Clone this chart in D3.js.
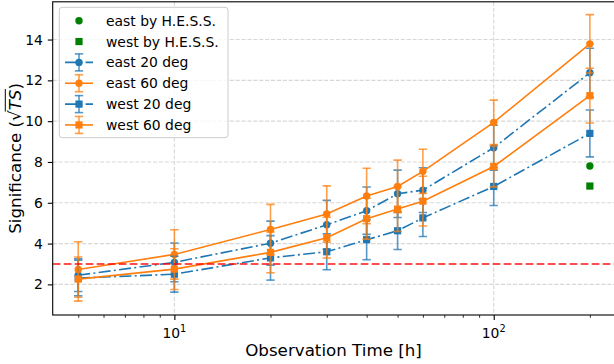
<!DOCTYPE html>
<html><head><meta charset="utf-8">
<script src="https://cdn.jsdelivr.net/npm/d3@7"></script>
<style>body{margin:0;background:#fff} text{font-family:"DejaVu Sans",sans-serif;fill:#000}</style>
</head><body><svg id="c" width="614" height="364"></svg>
<script>
// ---------- data ----------
const hours = [5, 10, 20, 30, 40, 50, 60, 100, 200];
const east20 = [2.45, 3.08, 4.02, 4.92, 5.61, 6.44, 6.62, 8.70, 12.37];
const east20Err = [0.80, 0.95, 1.08, 1.20, 1.16, 1.16, 1.10, 1.10, 1.20];
const east60 = [2.73, 3.47, 4.69, 5.45, 6.33, 6.80, 7.54, 9.94, 13.79];
const east60Err = [1.36, 1.21, 1.23, 1.38, 1.36, 1.29, 1.08, 1.09, 1.43];
const west20 = [2.31, 2.50, 3.30, 3.60, 4.19, 4.63, 5.26, 6.80, 9.40];
const west20Err = [0.87, 0.88, 1.09, 0.88, 0.98, 0.92, 0.91, 0.93, 1.15];
const west60 = [2.26, 2.75, 3.57, 4.29, 5.22, 5.69, 6.08, 7.78, 11.25];
const west60Err = [1.08, 1.00, 1.00, 1.00, 1.00, 1.10, 1.22, 1.00, 1.34];
const hessHours = [200];
const hessEast = [7.80];
const hessWest = [6.82];
const threshold = 3;
const yTicks = [2, 4, 6, 8, 10, 12, 14];
const xMajorTicks = [10, 100];
const xMajorExp = ["1", "2"];
const xMinorTicks = [5, 6, 7, 8, 9, 20, 30, 40, 50, 60, 70, 80, 90, 200];
const legendLabels = ["east by H.E.S.S.", "west by H.E.S.S.", "east 20 deg", "east 60 deg", "west 20 deg", "west 60 deg"];

// ---------- setup ----------
const BLUE = "#1f77b4", ORANGE = "#ff7f0e", GREEN = "#008000";
const svg = d3.select("#c");
const L = 52.7, R = 615.4, T = 1.8, B = 315;
const x = d3.scaleLog().domain([Math.pow(10, 0.619), Math.pow(10, 2.381)]).range([L, R]);
const y = d3.scaleLinear().domain([0.5, 15.85]).range([B, T]);

svg.append("defs").append("clipPath").attr("id", "clip")
  .append("rect").attr("x", L).attr("y", T).attr("width", R - L).attr("height", B - T);

// grid
const grid = svg.append("g");
grid.selectAll(".gy").data(yTicks).enter().append("line")
  .attr("x1", L).attr("x2", R).attr("y1", d => y(d)).attr("y2", d => y(d))
  .attr("stroke", "#b0b0b0").attr("stroke-opacity", 0.5).attr("stroke-width", 1.1).attr("stroke-dasharray", "4.1,1.8");
grid.selectAll(".gx").data(xMajorTicks).enter().append("line")
  .attr("y1", T).attr("y2", B).attr("x1", d => x(d)).attr("x2", d => x(d))
  .attr("stroke", "#b0b0b0").attr("stroke-opacity", 0.5).attr("stroke-width", 1.1).attr("stroke-dasharray", "4.1,1.8");

const plot = svg.append("g").attr("clip-path", "url(#clip)");

function marker(g, type, cx, cy, color) {
  if (type === "circle") {
    g.append("circle").attr("cx", cx).attr("cy", cy).attr("r", 3.7).attr("fill", color);
  } else {
    g.append("rect").attr("x", cx - 3.6).attr("y", cy - 3.6).attr("width", 7.2).attr("height", 7.2).attr("fill", color);
  }
}

// H.E.S.S. points
hessHours.forEach((h, i) => {
  marker(plot, "circle", x(h), y(hessEast[i]), GREEN);
  marker(plot, "square", x(h), y(hessWest[i]), GREEN);
});

function series(vals, errs, color, dash, type) {
  const g = plot.append("g");
  const eb = g.append("g").attr("stroke", color).attr("stroke-width", 1.6).attr("stroke-opacity", 0.75);
  hours.forEach((h, i) => {
    const cx = x(h), y1 = y(vals[i] + errs[i]), y0 = y(vals[i] - errs[i]);
    eb.append("line").attr("x1", cx).attr("x2", cx).attr("y1", y1).attr("y2", y0);
    eb.append("line").attr("x1", cx - 4.2).attr("x2", cx + 4.2).attr("y1", y1).attr("y2", y1);
    eb.append("line").attr("x1", cx - 4.2).attr("x2", cx + 4.2).attr("y1", y0).attr("y2", y0);
  });
  const line = d3.line().x((d, i) => x(hours[i])).y(d => y(d));
  g.append("path").datum(vals).attr("d", line).attr("fill", "none").attr("stroke", color)
    .attr("stroke-width", 1.6).attr("stroke-dasharray", dash);
  vals.forEach((v, i) => marker(g, type, x(hours[i]), y(v), color));
}
const DASHDOT = "12,3.3,2,3.3";
series(east20, east20Err, BLUE, DASHDOT, "circle");
series(east60, east60Err, ORANGE, null, "circle");
series(west20, west20Err, BLUE, DASHDOT, "square");
series(west60, west60Err, ORANGE, null, "square");

// threshold line
plot.append("line").attr("x1", L).attr("x2", R).attr("y1", y(threshold)).attr("y2", y(threshold))
  .attr("stroke", "red").attr("stroke-opacity", 0.7).attr("stroke-width", 2).attr("stroke-dasharray", "7.7,3.3");

// frame
svg.append("rect").attr("x", L).attr("y", T).attr("width", R - L).attr("height", B - T)
  .attr("fill", "none").attr("stroke", "#000").attr("stroke-width", 1.1);

// axes
const yAxis = svg.append("g").attr("transform", `translate(${L},0)`)
  .call(d3.axisLeft(y).tickValues(yTicks).tickSize(4.9).tickPadding(4.9).tickFormat(d3.format("d")));
yAxis.select(".domain").remove();
yAxis.selectAll("text").attr("font-size", 13.9).attr("font-family", "DejaVu Sans");
yAxis.selectAll("line").attr("stroke-width", 1.1);

const xAxis = svg.append("g").attr("transform", `translate(0,${B})`)
  .call(d3.axisBottom(x).tickValues(xMajorTicks).tickSize(4.9).tickFormat(""));
xAxis.select(".domain").remove();
xAxis.selectAll("line").attr("stroke-width", 1.1);
const xMinor = svg.append("g").attr("transform", `translate(0,${B})`)
  .call(d3.axisBottom(x).tickValues(xMinorTicks.filter(d => x(d) <= R)).tickSize(2.8).tickFormat(""));
xMinor.select(".domain").remove();
xMinor.selectAll("line").attr("stroke-width", 0.8);

xMajorTicks.forEach((t, i) => {
  const tx = svg.append("text").attr("x", x(t)).attr("y", B + 22.5).attr("text-anchor", "middle")
    .attr("font-size", 13.9);
  tx.append("tspan").text("10");
  tx.append("tspan").attr("dy", -5.5).attr("font-size", 9.8).text(xMajorExp[i]);
});

// axis labels
svg.append("text").attr("x", (L + R) / 2 - 0.5).attr("y", 356).attr("text-anchor", "middle")
  .attr("font-size", 16.7).text("Observation Time [h]");

const yl = svg.append("g").attr("transform", `translate(20.5,${(T + B) / 2}) rotate(-90)`);
const ylt = yl.append("text").attr("font-size", 16.7).attr("x", 0).attr("y", 0);
ylt.append("tspan").text("Significance (");
ylt.append("tspan").text("\u221A");
ylt.append("tspan").attr("font-style", "italic").text("TS");
ylt.append("tspan").text(")");
const w = ylt.node().getComputedTextLength();
ylt.attr("x", -w / 2);
const n = ylt.node();
const sx = n.getEndPositionOfChar(14).x - 1.2, ex = n.getEndPositionOfChar(16).x + 0.5;
yl.append("line").attr("x1", sx).attr("x2", ex).attr("y1", -15.2).attr("y2", -15.2)
  .attr("stroke", "#000").attr("stroke-width", 1);

// legend
const lg = svg.append("g");
lg.append("rect").attr("x", 59.3).attr("y", 7.3).attr("width", 168.7).attr("height", 130.4).attr("rx", 3)
  .attr("fill", "#fff").attr("fill-opacity", 0.8).attr("stroke", "#ccc").attr("stroke-width", 1);
const rowY = i => 20.7 + i * 20.85;
const hx0 = 65, hx1 = 93, hc = 79;
const legendStyle = [
  {type: "circle", color: GREEN, eb: false},
  {type: "square", color: GREEN, eb: false},
  {type: "circle", color: BLUE, eb: true, dash: DASHDOT},
  {type: "circle", color: ORANGE, eb: true, dash: null},
  {type: "square", color: BLUE, eb: true, dash: DASHDOT},
  {type: "square", color: ORANGE, eb: true, dash: null}
];
legendLabels.forEach((lab, i) => {
  const s = legendStyle[i], cy = rowY(i);
  const g = lg.append("g");
  if (s.eb) {
    const e = g.append("g").attr("stroke", s.color).attr("stroke-width", 1.6).attr("stroke-opacity", 0.75);
    e.append("line").attr("x1", hc).attr("x2", hc).attr("y1", cy - 8.5).attr("y2", cy + 8.5);
    e.append("line").attr("x1", hc - 4.2).attr("x2", hc + 4.2).attr("y1", cy - 8.5).attr("y2", cy - 8.5);
    e.append("line").attr("x1", hc - 4.2).attr("x2", hc + 4.2).attr("y1", cy + 8.5).attr("y2", cy + 8.5);
    g.append("line").attr("x1", hx0).attr("x2", hx1).attr("y1", cy).attr("y2", cy)
      .attr("stroke", s.color).attr("stroke-width", 1.6).attr("stroke-dasharray", s.dash);
  }
  marker(g, s.type, hc, cy, s.color);
  g.append("text").attr("x", 106).attr("y", cy + 5).attr("font-size", 13.9).text(lab);
});
</script></body></html>
